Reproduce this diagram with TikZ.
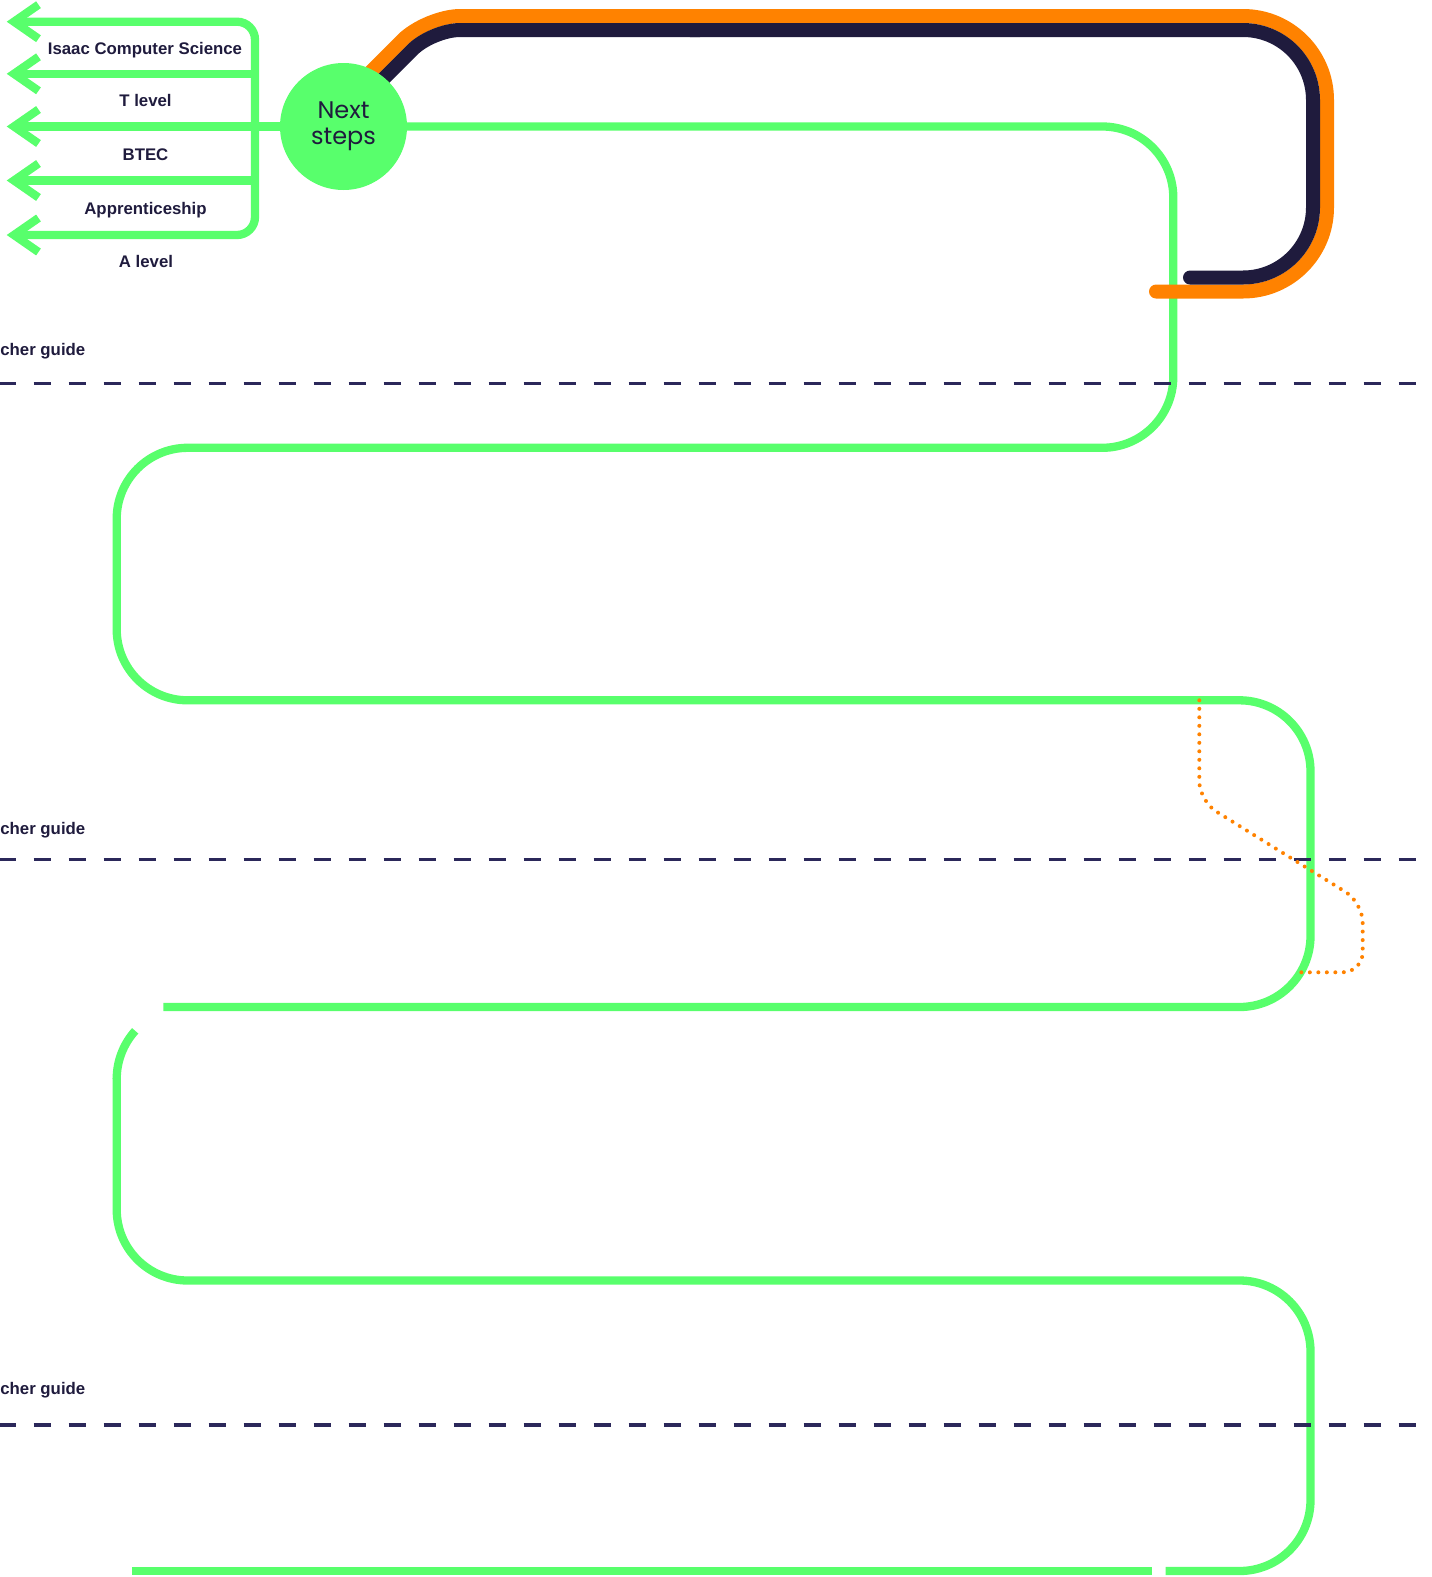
\documentclass[tikz,border=0pt]{standalone}
\usepackage{fontspec}
\setmainfont{Liberation Sans}
\newfontfamily\roundfont{Poppins}
\definecolor{lime}{RGB}{88,255,108}
\definecolor{tangerine}{RGB}{255,130,0}
\definecolor{ink}{RGB}{31,27,61}
\definecolor{dashink}{RGB}{43,40,90}
\begin{document}
\begin{tikzpicture}[x=1pt,y=-1pt,
  route/.style={draw=lime, line width=8.3pt},
  barb/.style={route, line join=miter},
  track/.style={line width=14pt, line cap=round},
  guide/.style={draw=dashink, line width=3.3pt, dash pattern=on 17.5pt off 17.5pt, dash phase=1.5pt},
  trail/.style={draw=tangerine, line width=4pt, line cap=round, dash pattern=on 0pt off 8.5pt},
  optlabel/.style={anchor=base, text=ink, font=\fontsize{16.8}{20}\selectfont\bfseries, inner sep=0pt},
  guidelabel/.style={anchor=base east, text=ink, font=\fontsize{16.8}{20}\selectfont\bfseries, inner sep=0pt},
  hub/.style={circle, fill=lime, minimum size=127pt, inner sep=0pt, align=center, text=ink,
    font=\roundfont\fontsize{24}{26}\selectfont}]

\useasboundingbox (0,0) rectangle (1432,1577);

% hub position (the circle itself is drawn over the lines that meet it)
\coordinate (hubc) at (343.5,126.5);

% options fan: bracket with five outgoing arrows
\coordinate (barTop) at (255,21.7);
\coordinate (barBot) at (255,235);
\draw[route, rounded corners=18pt] (14,21.7) -- (barTop) -- (barBot) -- (14,235);
\draw[route] (255,73.8) -- (14,73.8);
\draw[route] (255,180.5) -- (14,180.5);
\draw[route] (hubc) -- (14,126.5);
\foreach \yy in {21.7,73.8,126.5,180.5,235}{
  \draw[barb] (38.5,\yy-17) -- (14,\yy) -- (38.5,\yy+17);
}

% main serpentine route
\draw[route, rounded corners=71pt] (hubc) -- (1173.3,126.5) -- (1173.3,447.8)
  -- (116.7,447.8) -- (116.7,700.3) -- (1310.5,700.3) -- (1310.5,1007) -- (163.3,1007);
\draw[route] (135.2,1030.8) arc[start angle=138, end angle=180, radius=72pt];
\draw[route, rounded corners=71pt] (116.7,1078) -- (116.7,1280.5) -- (1310.5,1280.5)
  -- (1310.5,1571) -- (1165.7,1571);
\draw[route] (1151.7,1571) -- (131.7,1571);

% orange and navy tracks: diagonal lead-in, then the wide hook on the right
\draw[track, tangerine, rounded corners=34pt] (342.4,100) -- (426.4,16) -- (700,16);
\draw[track, tangerine, rounded corners=84pt] (690,16) -- (1327,16)
  -- (1327,291.5) -- (1156,291.5);
\draw[track, ink, rounded corners=28pt] (362.2,100) -- (432.2,30) -- (700,30);
\draw[track, ink, rounded corners=70pt] (690,30) -- (1313,30)
  -- (1313,277.5) -- (1190,277.5);

% hub circle
\node[hub] (next) at (hubc) {Next\\steps};

% section separators
\draw[guide] (0,383.3) -- (1432,383.3);
\draw[guide] (0,859.2) -- (1432,859.2);
\draw[guide] (0,1425) -- (1432,1425);

% dotted shortcut
\draw[trail, rounded corners=20pt] (1199.3,700.3) -- (1199.3,801) -- (1362.7,902.6)
  -- (1362.7,972.3) -- (1298.3,972.3);

% option labels
\node[optlabel] (lisaac) at (145,54.3) {Isaac Computer Science};
\node[optlabel] (ltlevel) at (145.5,106.7) {T level};
\node[optlabel] (lbtec) at (145.5,160) {BTEC};
\node[optlabel] (lapp) at (145.5,214) {Apprenticeship};
\node[optlabel] (lalevel) at (146,267) {A level};

% guide labels
\node[guidelabel] (g1) at (85.5,355.5) {cher guide};
\node[guidelabel] (g2) at (85.5,834) {cher guide};
\node[guidelabel] (g3) at (85.5,1394) {cher guide};
\end{tikzpicture}
\end{document}
